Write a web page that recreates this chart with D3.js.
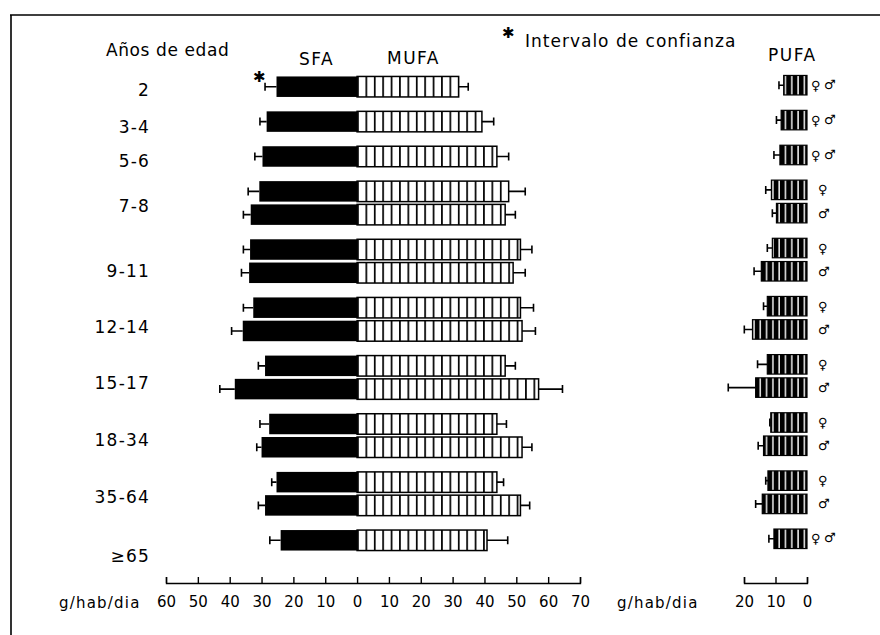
<!DOCTYPE html>
<html><head><meta charset="utf-8">
<script src="https://cdn.jsdelivr.net/npm/d3@7"></script>
<style>
body{margin:0;background:#fff}
svg{display:block;background:#fff}
text{font-family:"DejaVu Sans",sans-serif;fill:#000}
</style>
</head><body>
<svg id="chart" width="880" height="635"></svg>
<script>
// ---- data ----
const ageGroups = ["2","3-4","5-6","7-8","9-11","12-14","15-17","18-34","35-64","≥65"];
const barGroup  = ["2","3-4","5-6","7-8","7-8","9-11","9-11","12-14","12-14","15-17","15-17","18-34","18-34","35-64","35-64","≥65"];
const barSex    = ["♀♂","♀♂","♀♂","♀","♂","♀","♂","♀","♂","♀","♂","♀","♂","♀","♂","♀♂"];
const sfaValues = [25.3,28.4,29.7,30.7,33.4,33.6,33.9,32.6,35.9,28.9,38.4,27.6,30.0,25.3,28.9,24.0];
const sfaUpper  = [28.9,30.5,32.1,34.2,35.7,35.7,36.3,35.7,39.4,31.0,43.1,30.5,31.5,26.8,31.0,27.4];
const mufaValues= [31.9,39.2,43.9,47.6,46.5,51.3,49.0,51.3,51.8,46.5,57.0,43.9,51.8,43.9,51.3,40.8];
const mufaUpper = [34.9,42.9,47.6,52.8,49.7,54.9,52.8,55.4,56.0,49.7,64.5,46.9,54.9,46.0,54.2,47.3];
const pufaValues= [7.4,8.2,8.6,11.3,9.7,11.0,14.5,12.6,17.3,12.6,16.3,11.5,13.8,12.4,14.2,10.5];
const pufaUpper = [8.9,9.7,10.5,13.1,11.0,12.6,16.8,13.8,19.9,15.7,25.0,11.8,15.5,13.1,16.3,12.1];
const mainTicks = [-60,-50,-40,-30,-20,-10,0,10,20,30,40,50,60,70];
const pufaTicks = [20,10,0];
const headers = {age:"Años de edad", sfa:"SFA", mufa:"MUFA", pufa:"PUFA", ci:"Intervalo de confianza", unit:"g/hab/dia"};

// ---- layout ----
const svg = d3.select("#chart");
const x = d3.scaleLinear().domain([-60,70]).range([166,580]);
const xp = d3.scaleLinear().domain([20,0]).range([744,807]);
const axisY = 583;
const barH = 20.5;
const labelNudge = [3,5,5,3,10,8,6,4,3,16];

// cumulative slot units: 1.5 between age groups, 1 within a pair
let u = 0;
const bars = barGroup.map((g,i)=>{
  if(i>0) u += (g===barGroup[i-1]) ? 1 : 1.5;
  return {group:g, sex:barSex[i], sfa:sfaValues[i], sfaU:sfaUpper[i], mufa:mufaValues[i], mufaU:mufaUpper[i], pufa:pufaValues[i], pufaU:pufaUpper[i], unit:u};
});
const y = d3.scaleLinear().domain([0,u]).range([86.7,540.3]);

// patterns
const defs = svg.append("defs");
const mp = defs.append("pattern").attr("id","mufaPat").attr("patternUnits","userSpaceOnUse")
  .attr("x",x(0)).attr("y",0).attr("width",8.4).attr("height",10);
mp.append("rect").attr("width",8.4).attr("height",10).attr("fill","#fff");
mp.append("rect").attr("x",0).attr("width",1.7).attr("height",10).attr("fill","#000");
const pp = defs.append("pattern").attr("id","pufaPat").attr("patternUnits","userSpaceOnUse")
  .attr("x",xp(0)).attr("y",0).attr("width",6.3).attr("height",10);
pp.append("rect").attr("width",6.3).attr("height",10).attr("fill","#000");
pp.append("rect").attr("x",3).attr("width",1.4).attr("height",10).attr("fill","#fff");

// frame
svg.append("path").attr("d","M10,15H880M11,15V635").attr("stroke","#000").attr("stroke-width",1.6).attr("fill","none");

// headers
const T = (txt,xx,yy,opt={})=>svg.append("text").attr("x",xx).attr("y",yy).attr("dy","0.35em")
  .attr("font-size",opt.size||17).attr("text-anchor",opt.anchor||"start")
  .style("letter-spacing",(opt.ls!=null?opt.ls:1)+"px").text(txt);
T(headers.age,106,50,{ls:0.6});
T(headers.sfa,299,59,{ls:1.5});
T(headers.mufa,387,58,{ls:1.5});
T(headers.ci,525,41,{ls:1});
T(headers.pufa,768,55,{ls:1.5});
T("✱",502,33,{size:15,ls:0});
T("✱",253,77,{size:15,ls:0});

// age labels
ageGroups.forEach((g,k)=>{
  const bs = bars.filter(b=>b.group===g);
  const cy = d3.mean(bs,b=>y(b.unit));
  T(g,150,cy+labelNudge[k],{anchor:"end",ls:1.2});
});

// bars
const gb = svg.append("g");
const cap = 4;
bars.forEach(b=>{
  const cy = y(b.unit);
  // SFA
  gb.append("rect").attr("x",x(-b.sfa)).attr("y",cy-barH/2).attr("width",x(0)-x(-b.sfa)).attr("height",barH).attr("fill","#000");
  gb.append("path").attr("d",`M${x(-b.sfa)},${cy}H${x(-b.sfaU)}M${x(-b.sfaU)},${cy-cap}V${cy+cap}`).attr("stroke","#000").attr("stroke-width",1.6).attr("fill","none");
  // MUFA
  gb.append("rect").attr("x",x(0)).attr("y",cy-barH/2).attr("width",x(b.mufa)-x(0)).attr("height",barH)
    .attr("fill","url(#mufaPat)").attr("stroke","#000").attr("stroke-width",1.5);
  gb.append("path").attr("d",`M${x(b.mufa)},${cy}H${x(b.mufaU)}M${x(b.mufaU)},${cy-cap}V${cy+cap}`).attr("stroke","#000").attr("stroke-width",1.6).attr("fill","none");
  // PUFA
  const py = cy-1.5, ph = 19.5;
  gb.append("rect").attr("x",xp(b.pufa)).attr("y",py-ph/2).attr("width",xp(0)-xp(b.pufa)).attr("height",ph)
    .attr("fill","url(#pufaPat)").attr("stroke","#000").attr("stroke-width",1.2);
  gb.append("path").attr("d",`M${xp(b.pufa)},${py}H${xp(b.pufaU)}M${xp(b.pufaU)},${py-cap}V${py+cap}`).attr("stroke","#000").attr("stroke-width",1.6).attr("fill","none");
  // sex symbols
  if(b.sex.length===2){
    T("♀",811,py,{size:13,ls:0});
    T("♂",824,py-1,{size:13,ls:0});
  } else {
    T(b.sex,818,py,{size:13,ls:0});
  }
});

// axes
function styleAxis(g){
  g.attr("font-family",null).attr("font-size",null);
  g.selectAll("path,line").attr("stroke","#000").attr("stroke-width",1.4);
  g.selectAll("text").attr("font-size",15).style("font-family","'DejaVu Sans',sans-serif").attr("fill","#000");
}
svg.append("g").attr("transform",`translate(0,${axisY})`)
  .call(d3.axisBottom(x).tickValues(mainTicks).tickFormat(d=>Math.abs(d)).tickSizeInner(-6).tickSizeOuter(-6).tickPadding(13))
  .call(styleAxis);
svg.append("g").attr("transform",`translate(0,${axisY})`)
  .call(d3.axisBottom(xp).tickValues(pufaTicks).tickFormat(d3.format("d")).tickSizeInner(-6).tickSizeOuter(-6).tickPadding(13))
  .call(styleAxis);
T(headers.unit,59,603,{size:15,ls:1.2});
T(headers.unit,617,603,{size:15,ls:1.2});
</script>
</body></html>
